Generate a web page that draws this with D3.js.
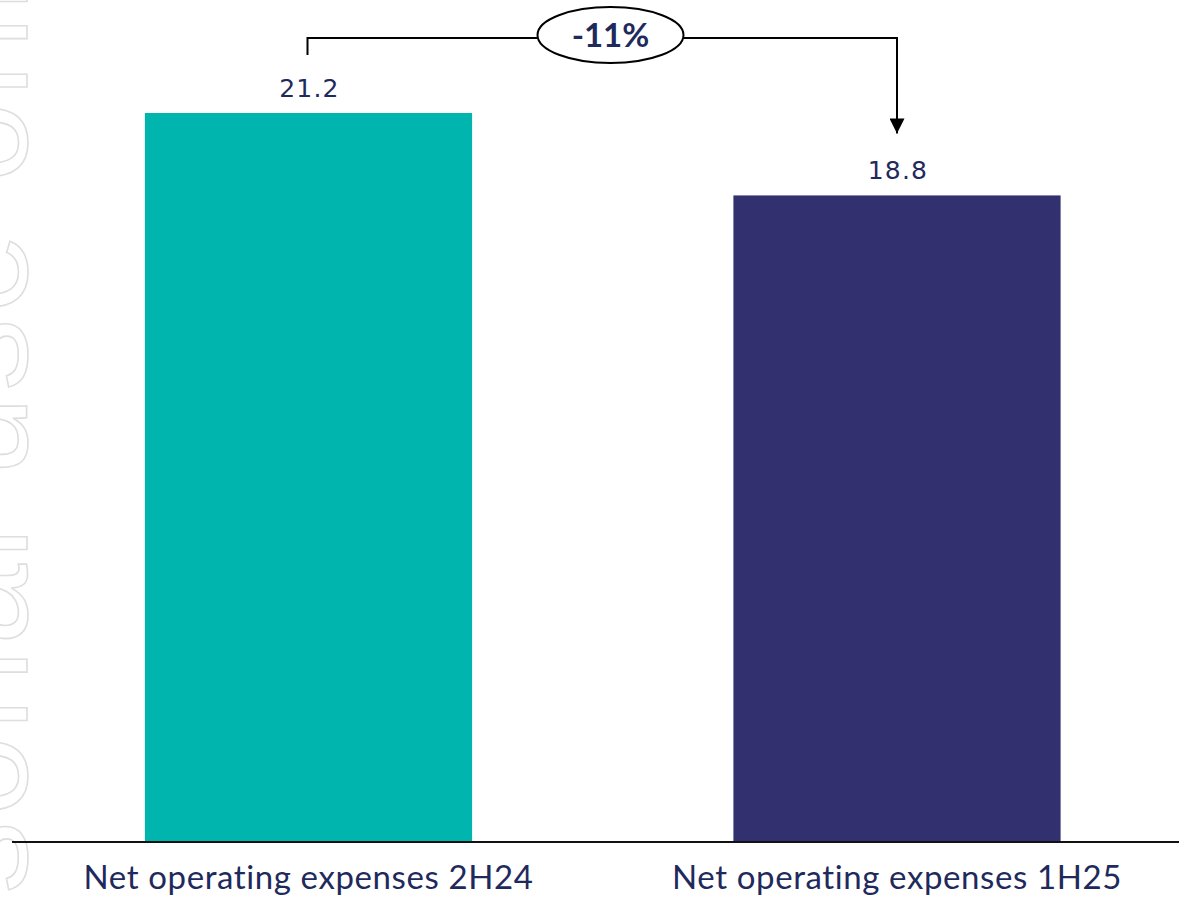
<!DOCTYPE html>
<html><head><meta charset="utf-8">
<script src="https://cdn.jsdelivr.net/npm/d3@7"></script>
<style>html,body{margin:0;padding:0;background:#fff;}svg{display:block;}</style>
</head><body>
<svg id="c" width="1179" height="899"></svg>
<script>
const categories = ["Net operating expenses 2H24", "Net operating expenses 1H25"];
const values = [21.2, 18.8];
const valueLabels = ["21.2", "18.8"];
const colors = ["#00B5AD", "#33306F"];
const changeLabel = "-11%";
const watermark = "For personal use only";

const svg = d3.select("#c");
const W = 1179, H = 899;
const baseY = 841;

// watermark (faint outlined text, cut by the left edge)
svg.append("text")
  .attr("transform", "translate(27,1396) rotate(-90)")
  .attr("font-family", "Liberation Sans, Arial, sans-serif")
  .attr("font-size", 145)
  .attr("letter-spacing", 5)
  .attr("fill", "none")
  .attr("stroke", "#dedede")
  .attr("stroke-width", 1.6)
  .text(watermark);

const x = d3.scaleBand().domain(categories).range([14.25, 1191.25]).paddingInner(0.444).paddingOuter(0.222);
const y = d3.scaleLinear().domain([0, 21.2]).range([baseY, 113]);

svg.selectAll("rect.bar").data(values).enter().append("rect")
  .attr("class", "bar")
  .attr("x", (d, i) => x(categories[i]))
  .attr("width", x.bandwidth())
  .attr("y", d => y(d))
  .attr("height", d => baseY - y(d))
  .attr("fill", (d, i) => colors[i]);

// axis baseline
svg.append("line").attr("x1", 12).attr("x2", W).attr("y1", baseY + 1).attr("y2", baseY + 1)
  .attr("stroke", "#111").attr("stroke-width", 2);

// category labels
svg.selectAll("text.cat").data(categories).enter().append("text")
  .attr("class", "cat")
  .attr("x", d => x(d) + x.bandwidth() / 2)
  .attr("y", 889)
  .attr("text-anchor", "middle")
  .attr("font-family", "Lato, sans-serif")
  .attr("font-size", 33)
  .attr("letter-spacing", 0.6)
  .attr("fill", "#1F2A5C")
  .text(d => d);

// value labels
svg.selectAll("text.val").data(values).enter().append("text")
  .attr("class", "val")
  .attr("x", (d, i) => x(categories[i]) + x.bandwidth() / 2 + 1)
  .attr("y", d => y(d) - 16)
  .attr("text-anchor", "middle")
  .attr("font-family", "DejaVu Sans, sans-serif")
  .attr("font-size", 25)
  .attr("letter-spacing", 1.2)
  .attr("fill", "#1F2A5C")
  .text((d, i) => valueLabels[i]);

// bracket annotation
const cx0 = x(categories[0]) + x.bandwidth() / 2 - 1;
const cx1 = x(categories[1]) + x.bandwidth() / 2;
const topY = 38;
svg.append("defs").append("marker")
  .attr("id", "arr").attr("viewBox", "0 0 10 10").attr("refX", 10).attr("refY", 5)
  .attr("markerWidth", 7.5).attr("markerHeight", 7.5).attr("markerUnits", "strokeWidth").attr("orient", "auto")
  .append("path").attr("d", "M0,0 L10,5 L0,10 Z").attr("fill", "#000");

svg.append("path")
  .attr("d", `M${cx0},${y(values[0]) - 58} V${topY} H${cx1} V${y(values[1]) - 62}`)
  .attr("fill", "none").attr("stroke", "#000").attr("stroke-width", 2)
  .attr("marker-end", "url(#arr)");

const ex = 610.5;
svg.append("ellipse").attr("cx", ex).attr("cy", 35).attr("rx", 73).attr("ry", 28)
  .attr("fill", "#fff").attr("stroke", "#000").attr("stroke-width", 2);
svg.append("text").attr("x", ex).attr("y", 47).attr("text-anchor", "middle")
  .attr("font-family", "Lato, sans-serif").attr("font-weight", "bold").attr("font-size", 33)
  .attr("fill", "#1F2A5C").text(changeLabel);
</script>
</body></html>
